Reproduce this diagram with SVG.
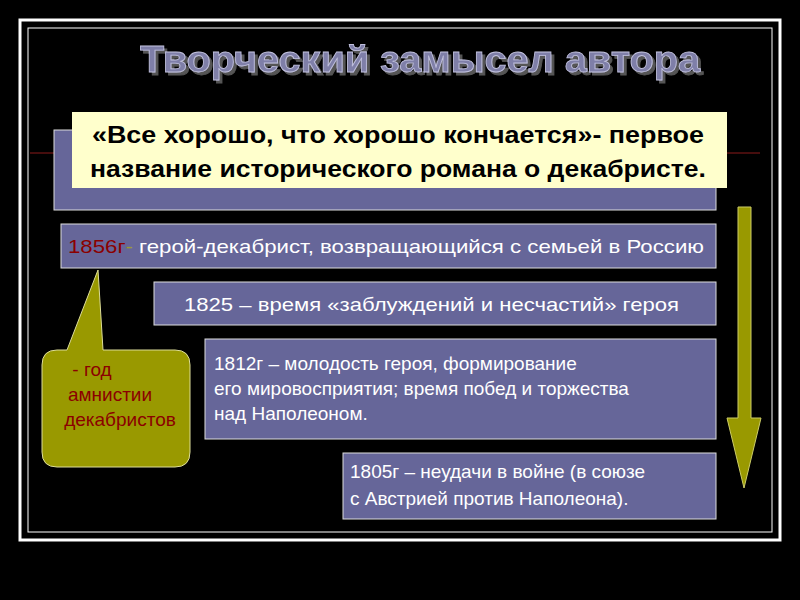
<svg xmlns="http://www.w3.org/2000/svg" width="800" height="600" viewBox="0 0 800 600">
<defs><filter id="sh" x="-5%" y="-20%" width="110%" height="150%"><feDropShadow dx="3" dy="3" stdDeviation="0.5" flood-color="#555"/></filter></defs>
<style>
.box{fill:#666699;stroke:#dddddd;stroke-width:1}
.t{font-family:"Liberation Sans",Arial,sans-serif;font-size:19px;fill:#ffffff}
.r{fill:#8b0000}
.y{font-family:"Liberation Sans",Arial,sans-serif;font-size:23px;font-weight:bold;fill:#000}
</style>
<rect width="800" height="600" fill="#000"/>
<rect x="20" y="20" width="760" height="520" fill="none" stroke="#fff" stroke-width="3"/>
<rect x="28" y="28" width="744" height="504" fill="none" stroke="#fff" stroke-width="1"/>
<line x1="30" y1="153" x2="760" y2="153" stroke="#8b1a1a" stroke-width="1"/>
<text x="420" y="72" text-anchor="middle" textLength="560" lengthAdjust="spacingAndGlyphs" font-family="'Liberation Sans',Arial,sans-serif" font-weight="bold" font-size="37" fill="#7f7fa8" stroke="#c0c0dd" stroke-width="0.8" filter="url(#sh)">Творческий замысел автора</text>
<g id="node-title"><rect class="box" x="54" y="130" width="662" height="80"/>
<rect x="72" y="112" width="655" height="76" fill="#ffffcc"/>
<text class="y" x="92" y="143" textLength="612" lengthAdjust="spacingAndGlyphs">«Все хорошо, что хорошо кончается»- первое</text>
<text class="y" x="90" y="177" textLength="616" lengthAdjust="spacingAndGlyphs">название исторического романа о декабристе.</text></g>
<g id="node-1856"><rect class="box" x="61" y="224" width="655" height="44"/>
<text class="t" x="68" y="253" textLength="636" lengthAdjust="spacingAndGlyphs"><tspan class="r">1856г</tspan><tspan fill="#999933">-</tspan> герой-декабрист, возвращающийся с семьей в Россию</text></g>
<g id="node-1825"><rect class="box" x="154" y="282" width="562" height="43"/>
<text class="t" x="184" y="311" textLength="495" lengthAdjust="spacingAndGlyphs">1825 – время «заблуждений и несчастий» героя</text></g>
<g id="node-1812"><rect class="box" x="205" y="339" width="511" height="100"/>
<text class="t" x="214" y="370">1812г – молодость героя, формирование</text>
<text class="t" x="214" y="395">его мировосприятия; время побед и торжества</text>
<text class="t" x="214" y="420">над Наполеоном.</text></g>
<g id="node-1805"><rect class="box" x="343" y="453" width="373" height="66"/>
<text class="t" x="350" y="478">1805г – неудачи в войне (в союзе</text>
<text class="t" x="350" y="505">с Австрией против Наполеона).</text></g>
<g id="node-callout"><path d="M60,350 L67,350 L98,270 L103,350 L175,350 Q190,350 190,365 L190,452 Q190,467 175,467 L57,467 Q42,467 42,452 L42,365 Q42,350 57,350 Z" fill="#999900" stroke="#dddd99" stroke-width="1"/>
<text x="92" y="376" text-anchor="middle" style="font-family:'Liberation Sans',Arial,sans-serif;font-size:19px;fill:#8b0000">- год</text>
<text x="110" y="401" text-anchor="middle" style="font-family:'Liberation Sans',Arial,sans-serif;font-size:19px;fill:#8b0000">амнистии</text>
<text x="120" y="426" text-anchor="middle" style="font-family:'Liberation Sans',Arial,sans-serif;font-size:19px;fill:#8b0000">декабристов</text></g>
<g id="connectors"><path d="M738,207 L751,207 L751,418 L761,418 L744,488 L727,418 L738,418 Z" fill="#999900" stroke="#cccc66" stroke-width="1"/></g>
</svg>
